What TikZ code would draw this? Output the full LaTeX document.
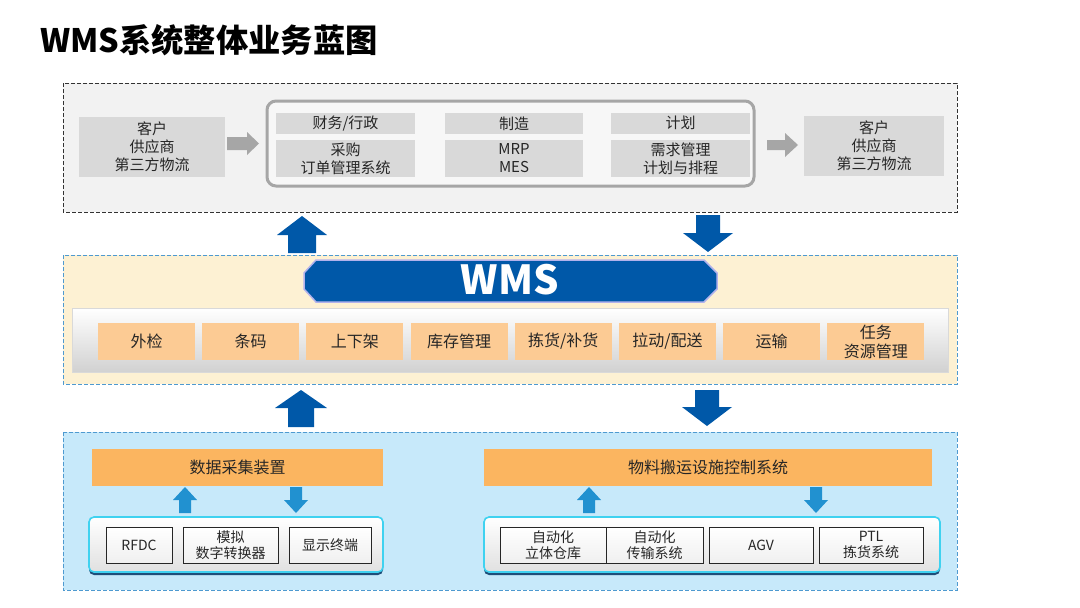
\documentclass[tikz,border=0pt]{standalone}
\usepackage{fontspec}
\setmainfont{Noto Sans CJK SC}
\usetikzlibrary{positioning,calc}

\definecolor{wmsblue}{HTML}{0058A8}
\definecolor{arrowblue}{HTML}{2191D0}
\definecolor{arrowgray}{HTML}{A6A6A6}
\definecolor{boxgray}{HTML}{D9D9D9}
\definecolor{topbg}{HTML}{F2F2F2}
\definecolor{midbg}{HTML}{FDF1D3}
\definecolor{botbg}{HTML}{C7E9FA}
\definecolor{dashblue}{HTML}{4E9AD0}
\definecolor{funcorange}{HTML}{FCCB94}
\definecolor{barorange}{HTML}{FBB560}
\definecolor{groupcyan}{HTML}{3FD2F0}
\definecolor{shadowblue}{HTML}{1F4E79}
\definecolor{txt}{HTML}{262626}

\tikzset{
  layerline/.style={dash pattern=on 4pt off 2pt, line width=0.8pt},
  partner/.style={fill=boxgray, minimum height=60, inner sep=0, align=center, text=txt, font=\fontsize{15}{18}\selectfont},
  cellhead/.style={fill=boxgray, minimum height=21, inner sep=0, text=txt, font=\fontsize{15}{18}\selectfont},
  cellbody/.style={fill=boxgray, minimum height=37, inner sep=0, align=center, text=txt, font=\fontsize{15}{18}\selectfont},
  funcbox/.style={fill=funcorange, minimum width=97, minimum height=37, inner sep=0, align=center, text=txt, font=\fontsize{16}{19}\selectfont},
  sysbar/.style={fill=barorange, minimum height=37, inner sep=0, text=txt, font=\fontsize{16}{19}\selectfont},
  devbox/.style={draw=black!85, line width=0.8pt, top color=white, bottom color=black!6, minimum height=36, inner sep=0, align=center, text=txt, font=\fontsize{14}{16}\selectfont},
  devgroup/.style={draw=groupcyan, line width=1.6pt, rounded corners=5, top color=white, bottom color=black!12},
}

% block arrow: style, x, tail y, tip y, head half width, shaft half width, head length (signed)
\newcommand{\blockarrow}[7]{%
  \fill[#1] (#2,#4) -- ({#2+#5},{#4+(#7)}) -- ({#2+#6},{#4+(#7)}) -- ({#2+#6},#3)
    -- ({#2-#6},#3) -- ({#2-#6},{#4+(#7)}) -- ({#2-#5},{#4+(#7)}) -- cycle;}

\begin{document}
\begin{tikzpicture}[x=1pt,y=-1pt]
\useasboundingbox (0,0) rectangle (1080,608);

% title
\node[anchor=west, inner sep=0, font=\bfseries\fontsize{32.3}{32}\selectfont] (title) at (40,40) {WMS系统整体业务蓝图};

% top layer
\draw[layerline, fill=topbg, draw=black!80] (63,83) rectangle (957,212);
\node[partner, minimum width=146] (custL) at (152,146.5) {客户\\供应商\\第三方物流};
\fill[arrowgray] (227,137) -- (247,137) -- (247,132) -- (259,143.5) -- (247,155) -- (247,150) -- (227,150) -- cycle;
\draw[draw=arrowgray, line width=3pt, fill=topbg!60!white, rounded corners=9] (267,101) rectangle (754,186);
\node[cellhead, minimum width=139] (fin) at (345.5,123.5) {财务/行政};
\node[cellhead, minimum width=138] (mfg) at (514,123.5) {制造};
\node[cellhead, minimum width=139] (plan) at (680.5,123) {计划};
\node[cellbody, minimum width=139] (purch) at (345.5,158.5) {采购\\订单管理系统};
\node[cellbody, minimum width=138] (mrp) at (514,158.5) {MRP\\MES};
\node[cellbody, minimum width=139] (demand) at (680.5,158.5) {需求管理\\计划与排程};
\fill[arrowgray] (767,140) -- (785,140) -- (785,133) -- (798,145) -- (785,157) -- (785,150) -- (767,150) -- cycle;
\node[partner, minimum width=140] (custR) at (874,146) {客户\\供应商\\第三方物流};

\blockarrow{wmsblue}{302}{253}{216}{25}{14}{19}
\blockarrow{wmsblue}{708}{215}{252}{25}{12}{-19}

% middle layer
\draw[layerline, fill=midbg, draw=dashblue] (63,255) rectangle (957,384);
\draw[fill=wmsblue, draw=black!25!blue!30!white, line width=1.5pt] (316,260) -- (704,260) -- (717,273) -- (717,289) -- (704,302)
  -- (316,302) -- (304,289) -- (304,273) -- cycle;
\node[text=white, font=\bfseries\fontsize{40}{40}\selectfont] (wms) at (510,280) {WMS};
\draw[draw=black!15, top color=white, middle color=white, bottom color=black!18] (72,308) rectangle (948,372);
\foreach \name [count=\i from 0] in {外检,条码,上下架,库存管理,拣货/补货,拉动/配送,运输,{任务\\资源管理}}
  \node[funcbox] (func\i) at ({146.5+104.2*\i},341.5) {\name};

\blockarrow{wmsblue}{301}{427}{390}{26}{13}{18}
\blockarrow{wmsblue}{707}{390}{426}{25}{12}{-19}

% bottom layer
\draw[layerline, fill=botbg, draw=dashblue] (63,432) rectangle (957,590);
\node[sysbar, minimum width=291] (collect) at (237.5,467.5) {数据采集装置};
\node[sysbar, minimum width=448] (handling) at (708,467.5) {物料搬运设施控制系统};

\blockarrow{arrowblue}{185}{513}{487}{12}{6}{13}
\blockarrow{arrowblue}{296}{487}{513}{12}{6}{-13}
\blockarrow{arrowblue}{589}{513}{487}{12}{6}{13}
\blockarrow{arrowblue}{816}{487}{513}{12}{6}{-13}

\fill[shadowblue, rounded corners=5] (89,520) rectangle (383,575);
\draw[devgroup] (89,517) rectangle (383,572);
\node[devbox, minimum width=66] (rfdc) at (139,545) {RFDC};
\node[devbox, minimum width=95] (adc) at (230.5,545) {模拟\\数字转换器};
\node[devbox, minimum width=82] (disp) at (330,545) {显示终端};

\fill[shadowblue, rounded corners=5] (484,520) rectangle (940,575);
\draw[devgroup] (484,517) rectangle (940,572);
\node[devbox, minimum width=106] (asrs) at (553,545) {自动化\\立体仓库};
\node[devbox, minimum width=97] (conv) at (654.5,545) {自动化\\传输系统};
\node[devbox, minimum width=104] (agv) at (761,545) {AGV};
\node[devbox, minimum width=104] (ptl) at (871,545) {PTL\\拣货系统};
\end{tikzpicture}
\end{document}
